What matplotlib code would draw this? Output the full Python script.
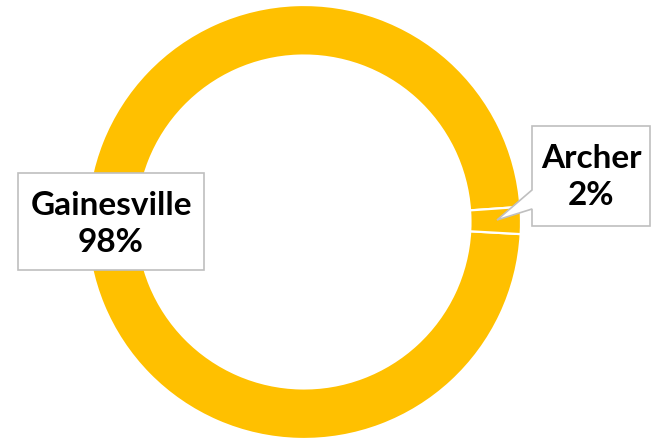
import numpy as np
import matplotlib.pyplot as plt
from matplotlib.patches import Polygon

labels = ["Gainesville", "Archer"]
shares = [98, 2]
colors = ["#FFC000", "#FFC000"]

W, H = 651, 443
fig = plt.figure(figsize=(W / 100, H / 100), dpi=100)
ax = fig.add_axes([0, 0, 1, 1])

# donut: Archer wedge sits just around 3 o'clock
cx, cy, r = 304, 443 - 222, 217
ax.pie(shares, colors=colors, center=(cx, cy), radius=r, startangle=-3.2,
       counterclock=False, frame=True,
       wedgeprops=dict(width=r * 0.233, edgecolor="white", linewidth=1.6))
ax.set_xlim(0, W)
ax.set_ylim(0, H)
ax.set_aspect("equal")
ax.axis("off")

def fy(y):
    return H - y

box_kw = dict(facecolor="white", edgecolor="#BFBFBF", linewidth=1.2, zorder=3)
txt_kw = dict(ha="center", va="center", fontsize=24, fontweight="bold",
              family=["Lato", "DejaVu Sans"], color="black", zorder=4, linespacing=1.3)

# Gainesville label box
g = [(18, 173), (204, 173), (204, 270), (18, 270)]
ax.add_patch(Polygon([(x, fy(y)) for x, y in g], closed=True, **box_kw))
ax.text(111, fy(224), f"{labels[0]}\n{shares[0]}%", **txt_kw)

# Archer callout box with pointer toward its wedge
a = [(532, 126), (650, 126), (650, 226), (532, 226), (532, 209), (497, 220), (532, 190)]
ax.add_patch(Polygon([(x, fy(y)) for x, y in a], closed=True, **box_kw))
ax.text(591, fy(177), f"{labels[1]}\n{shares[1]}%", **txt_kw)

fig.savefig("out.png", dpi=100)
